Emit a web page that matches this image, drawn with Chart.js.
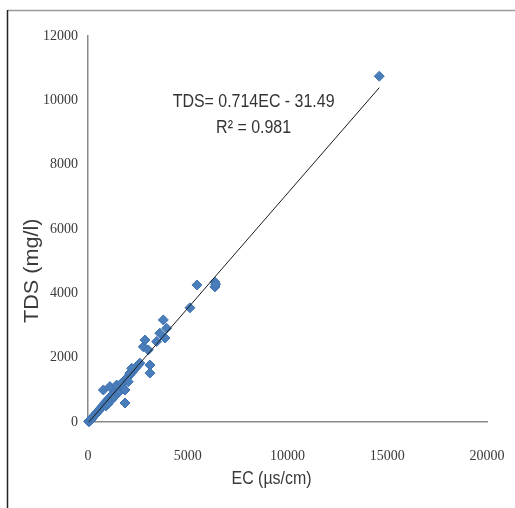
<!DOCTYPE html>
<html>
<head>
<meta charset="utf-8">
<script src="https://cdn.jsdelivr.net/npm/chart.js@4/dist/chart.umd.min.js"></script>
<style>
  html, body { margin: 0; padding: 0; background: #fff; }
  canvas { display: block; }
</style>
</head>
<body>
<canvas id="tdsChart" width="515" height="508"></canvas>
<script>
// EC (µs/cm) and TDS (mg/l) for each sample
const ecValues = [
  30, 50, 80, 150, 200, 260, 320, 380, 440, 500, 560, 620, 680, 740, 800, 860,
  920, 980, 1040, 1100, 1160, 1220, 1280, 1340, 1400, 1460, 1520, 1600, 1680,
  1760, 1840, 1920, 2000, 2100, 2200, 2300, 2400, 2500, 2600,
  900, 1000, 1200, 1300, 1500, 1600, 1700,
  770, 1100, 1440, 1690, 1855, 1855, 2020, 2100, 2190, 3105, 3105,
  2770, 2855, 3020, 3440, 3600, 3775, 3860, 3940,
  5110, 5460, 6360, 6360, 6400, 14600
];
const tdsValues = [
  20, 10, 30, 75, 110, 170, 200, 240, 290, 330, 370, 420, 460, 500, 540, 600,
  640, 680, 720, 760, 800, 850, 890, 940, 980, 1020, 1060, 1110, 1180,
  1240, 1290, 1340, 1400, 1470, 1540, 1620, 1690, 1760, 1830,
  500, 560, 700, 780, 900, 960, 1050,
  995, 1100, 1150, 1210, 995, 590, 1250, 1520, 1670, 1770, 1520,
  2340, 2550, 2240, 2500, 2760, 3173, 2610, 2914,
  3550, 4260, 4350, 4200, 4280, 10750
];

// fitted trend
const slope = 0.714;
const intercept = -31.49;
const rSquared = 0.981;

const xTicks = [0, 5000, 10000, 15000, 20000];
const yTicks = [0, 2000, 4000, 6000, 8000, 10000, 12000];

const xTitle = 'EC (µs/cm)';
const yTitle = 'TDS (mg/l)';

const points = ecValues.map((ec, i) => ({ x: ec, y: tdsValues[i] }));
const ecMin = Math.min(...ecValues);
const ecMax = Math.max(...ecValues);
const trend = [
  { x: ecMin, y: slope * ecMin + intercept },
  { x: ecMax, y: slope * ecMax + intercept }
];

const axisColor = '#8a8a8a';
const textColor = '#3a3a3a';
const labelFont = "'Liberation Sans', Arial, sans-serif";

// outer frame lines
const framePlugin = {
  id: 'frame',
  beforeDraw(chart) {
    const ctx = chart.ctx;
    ctx.save();
    ctx.strokeStyle = '#9a9a9a';
    ctx.lineWidth = 1.5;
    ctx.beginPath();
    ctx.moveTo(8, 10.5);
    ctx.lineTo(515, 10.5);
    ctx.stroke();
    ctx.strokeStyle = '#222';
    ctx.beginPath();
    ctx.moveTo(7.5, 10);
    ctx.lineTo(7.5, 508);
    ctx.stroke();
    ctx.restore();
  }
};

// narrow text: squeeze along the writing direction
function narrowText(ctx, text, x, y, size, squeeze, angle) {
  ctx.save();
  ctx.translate(x, y);
  ctx.rotate(angle || 0);
  ctx.scale(squeeze, 1);
  ctx.font = size + 'px ' + labelFont;
  ctx.textAlign = 'center';
  ctx.textBaseline = 'middle';
  ctx.fillText(text, 0, 0);
  ctx.restore();
}

// axis titles and the regression equation
const labelsPlugin = {
  id: 'labels',
  afterDatasetsDraw(chart) {
    const { ctx, scales, chartArea } = chart;
    ctx.save();
    ctx.fillStyle = '#333';
    const cx = scales.x.getPixelForValue(8300);
    const y1 = scales.y.getPixelForValue(9950);
    narrowText(ctx, 'TDS= ' + slope + 'EC - ' + Math.abs(intercept), cx, y1, 19, 0.84);
    narrowText(ctx, 'R² = ' + rSquared, cx, y1 + 26, 19, 0.84);

    ctx.fillStyle = textColor;
    narrowText(ctx, xTitle, scales.x.getPixelForValue(9200), chartArea.bottom + 57, 19, 0.84);
    narrowText(ctx, yTitle, 32, scales.y.getPixelForValue(4700), 21, 1.03, -Math.PI / 2);
    ctx.restore();
  }
};

new Chart(document.getElementById('tdsChart'), {
  type: 'scatter',
  data: {
    datasets: [
      {
        label: 'TDS',
        data: points,
        pointStyle: 'rectRot',
        pointRadius: 5,
        backgroundColor: '#4a7ebb',
        borderColor: '#3f72b0',
        borderWidth: 1,
        clip: false,
        order: 2
      },
      {
        label: 'Linear',
        type: 'line',
        data: trend,
        borderColor: '#1a1a1a',
        borderWidth: 1,
        pointRadius: 0,
        fill: false,
        order: 1
      }
    ]
  },
  options: {
    responsive: false,
    animation: false,
    layout: { padding: { top: 36, right: 28, left: 0, bottom: 0 } },
    plugins: {
      legend: { display: false },
      tooltip: { enabled: false }
    },
    scales: {
      x: {
        type: 'linear',
        min: 0,
        max: 20000,
        afterBuildTicks: axis => { axis.ticks = xTicks.map(v => ({ value: v })); },
        afterFit: axis => {
          axis.height = 86;
          axis.paddingLeft = 0;
          axis.paddingRight = 0;
        },
        grid: { display: false, drawTicks: false },
        border: { color: axisColor, width: 1.5 },
        ticks: {
          padding: 26,
          color: textColor,
          font: { family: "'Liberation Serif', serif", size: 14 },
          callback: v => String(v)
        }
      },
      y: {
        min: 0,
        max: 12000,
        afterBuildTicks: axis => { axis.ticks = yTicks.map(v => ({ value: v })); },
        afterFit: axis => {
          axis.width = 88;
          axis.paddingTop = 0;
          axis.paddingBottom = 0;
        },
        grid: { display: false, drawTicks: false },
        border: { color: axisColor, width: 1.5 },
        ticks: {
          padding: 10,
          color: textColor,
          font: { family: "'Liberation Serif', serif", size: 14 },
          callback: v => String(v)
        }
      }
    }
  },
  plugins: [framePlugin, labelsPlugin]
});
</script>
</body>
</html>
